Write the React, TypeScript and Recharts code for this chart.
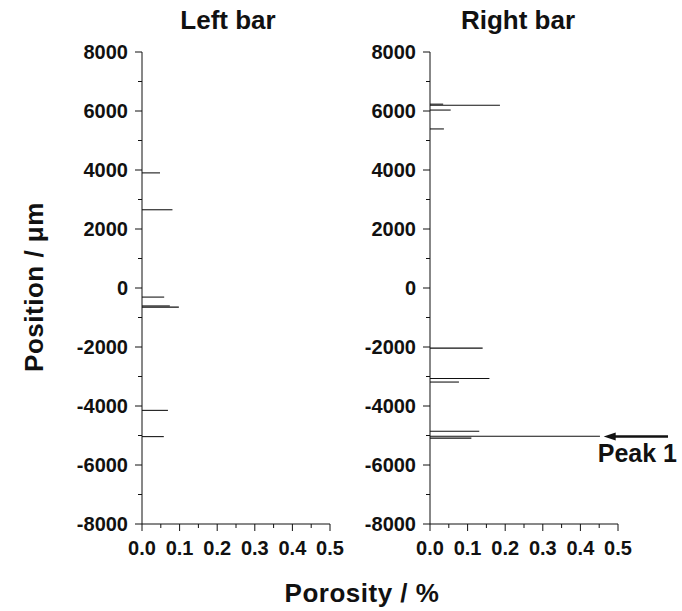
import { Bar, BarChart, ReferenceLine, XAxis, YAxis } from "recharts";

// porosity spikes (position in µm, porosity in %)
const leftPositions = [3900, 2650, -310, -610, -650, -4150, -5040];
const leftPorosity = [0.048, 0.081, 0.059, 0.074, 0.098, 0.069, 0.058];

const rightPositions = [6230, 6190, 6030, 5390, -2040, -3070, -3190, -4860, -5030, -5090];
const rightPorosity = [0.035, 0.186, 0.055, 0.037, 0.14, 0.158, 0.077, 0.131, 0.452, 0.11];

const yTicks = [-8000, -7000, -6000, -5000, -4000, -3000, -2000, -1000, 0, 1000, 2000, 3000, 4000, 5000, 6000, 7000, 8000];
const xTicks = [0, 0.05, 0.1, 0.15, 0.2, 0.25, 0.3, 0.35, 0.4, 0.45, 0.5];
const xLabelled = [0, 0.1, 0.2, 0.3, 0.4, 0.5];

const peakPosition = -5030;
const arrowFrom = 0.633;
const arrowTo = 0.462;

const font = "'Liberation Sans', Arial, Helvetica, sans-serif";
const ink = "#111";

const toRows = (pos: number[], por: number[]) => pos.map((p, i) => ({ pos: p, por: por[i] }));

const YTick = (props: any) => {
  const { x, y, payload } = props;
  const major = payload.value % 2000 === 0;
  return (
    <g>
      <line x1={x - (major ? 7 : 4)} x2={x} y1={y} y2={y} stroke={ink} strokeWidth={1} />
      {major && (
        <text x={x - 14} y={y} dy="0.36em" textAnchor="end" fontFamily={font} fontWeight="bold" fontSize={20} fill={ink}>
          {payload.value}
        </text>
      )}
    </g>
  );
};

const XTick = (props: any) => {
  const { x, y, payload } = props;
  const major = xLabelled.some((v) => Math.abs(v - payload.value) < 1e-6);
  return (
    <g>
      <line x1={x} x2={x} y1={y} y2={y + (major ? 7 : 4)} stroke={ink} strokeWidth={1} />
      {major && (
        <text x={x} y={y + 31} textAnchor="middle" fontFamily={font} fontWeight="bold" fontSize={20} fill={ink}>
          {payload.value.toFixed(1)}
        </text>
      )}
    </g>
  );
};

const PeakArrow = (props: any) => {
  const { x1, y1, x2, y2 } = props;
  const tipX = Math.min(x1, x2);
  const tailX = Math.max(x1, x2);
  const yy = (y1 + y2) / 2;
  return (
    <g>
      <line x1={tipX + 8} x2={tailX} y1={yy} y2={yy} stroke={ink} strokeWidth={2.5} />
      <polygon points={`${tipX},${yy} ${tipX + 12},${yy - 4} ${tipX + 12},${yy + 4}`} fill={ink} />
      <text x={tailX + 9} y={yy + 26} textAnchor="end" fontFamily={font} fontWeight="bold" fontSize={25} fill={ink}>
        Peak 1
      </text>
    </g>
  );
};

function Panel({ rows, width, right, children }: any) {
  return (
    <BarChart
      layout="vertical"
      width={width}
      height={611}
      data={rows}
      margin={{ top: 52, right, bottom: 57, left: 82 }}
    >
      <XAxis
        type="number"
        dataKey="por"
        domain={[0, 0.5]}
        ticks={xTicks}
        interval={0}
        height={30}
        tickSize={0}
        tickMargin={0}
        tick={<XTick />}
        axisLine={{ stroke: ink, strokeWidth: 1 }}
        allowDataOverflow
      />
      <YAxis
        type="number"
        dataKey="pos"
        domain={[-8000, 8000]}
        ticks={yTicks}
        interval={0}
        width={60}
        reversed
        tickSize={0}
        tickMargin={0}
        tick={<YTick />}
        axisLine={{ stroke: ink, strokeWidth: 1 }}
        allowDataOverflow
      />
      <Bar dataKey="por" fill={ink} barSize={1.5} isAnimationActive={false} />
      {children}
    </BarChart>
  );
}

export default function App() {
  return (
    <div style={{ position: "absolute", left: 0, top: 0, width: 682, height: 611, background: "#fff", fontFamily: font }}>
      <div style={{ position: "absolute", left: 0, top: 0 }}>
        <Panel rows={toRows(leftPositions, leftPorosity)} width={345} right={15} />
      </div>
      <div style={{ position: "absolute", left: 288, top: 0 }}>
        <Panel rows={toRows(rightPositions, rightPorosity)} width={394} right={64}>
          <ReferenceLine
            segment={[
              { x: arrowTo, y: peakPosition },
              { x: arrowFrom, y: peakPosition },
            ]}
            ifOverflow="visible"
            shape={<PeakArrow />}
          />
        </Panel>
      </div>
      <svg width={682} height={611} style={{ position: "absolute", left: 0, top: 0, pointerEvents: "none" }}>
        <text x={228} y={29} textAnchor="middle" fontFamily={font} fontWeight="bold" fontSize={26} fill={ink}>
          Left bar
        </text>
        <text x={518} y={29} textAnchor="middle" fontFamily={font} fontWeight="bold" fontSize={26} fill={ink}>
          Right bar
        </text>
        <text
          transform="translate(43,287) rotate(-90)"
          textAnchor="middle"
          fontFamily={font}
          fontWeight="bold"
          fontSize={26}
          letterSpacing={0.5}
          fill={ink}
        >
          Position / μm
        </text>
        <text x={362} y={602} textAnchor="middle" fontFamily={font} fontWeight="bold" fontSize={26} letterSpacing={0.5} fill={ink}>
          Porosity / %
        </text>
      </svg>
    </div>
  );
}
